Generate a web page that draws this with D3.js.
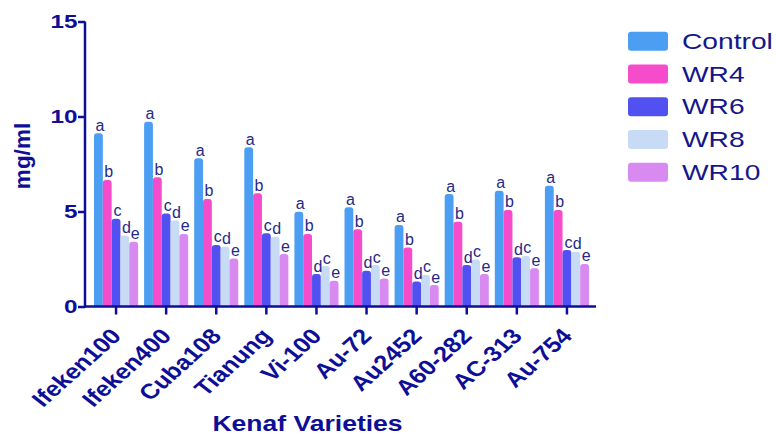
<!DOCTYPE html>
<html>
<head>
<meta charset="utf-8">
<script src="https://cdn.jsdelivr.net/npm/d3@7"></script>
<style>
  html, body { margin: 0; padding: 0; background: #fff; }
  svg { display: block; }
</style>
</head>
<body>
<svg id="chart" width="776" height="434"></svg>
<script>
// Kenaf varieties and treatment series
const varieties = ["Ifeken100", "Ifeken400", "Cuba108", "Tianung", "Vi-100", "Au-72", "Au2452", "A60-282", "AC-313", "Au-754"];
const seriesNames = ["Control", "WR4", "WR6", "WR8", "WR10"];

// Concentration (mg/ml) per variety, one array per series
const control = [9.12, 9.73, 7.80, 8.38, 4.99, 5.22, 4.29, 5.92, 6.09, 6.36];
const wr4     = [6.66, 6.80, 5.66, 5.96, 3.82, 4.06, 3.11, 4.46, 5.08, 5.08];
const wr6     = [4.62, 4.90, 3.24, 3.85, 1.71, 1.88, 1.31, 2.18, 2.59, 2.97];
const wr8     = [3.74, 4.52, 3.15, 3.67, 2.13, 2.18, 1.66, 2.48, 2.66, 2.88];
const wr10    = [3.41, 3.82, 2.52, 2.76, 1.36, 1.48, 1.13, 1.71, 2.01, 2.24];

// Significance letters per series
const lettersControl = ["a", "a", "a", "a", "a", "a", "a", "a", "a", "a"];
const lettersWr4     = ["b", "b", "b", "b", "b", "b", "b", "b", "b", "b"];
const lettersWr6     = ["c", "c", "c", "c", "d", "d", "d", "d", "d", "c"];
const lettersWr8     = ["d", "d", "d", "d", "c", "c", "c", "c", "c", "d"];
const lettersWr10    = ["e", "e", "e", "e", "e", "e", "e", "e", "e", "e"];

const yTicks = [0, 5, 10, 15];

const seriesValues = [control, wr4, wr6, wr8, wr10];
const seriesLetters = [lettersControl, lettersWr4, lettersWr6, lettersWr8, lettersWr10];
const colors = ["#4c9ef3", "#f44ccb", "#5151f2", "#c7dbf5", "#d98af0"];

const NAVY = "#0e0e96";
const FONT = "'Liberation Sans', Arial, sans-serif";

const svg = d3.select("#chart");

const x0 = d3.scaleBand().domain(varieties).range([91, 592]).paddingInner(0.12).paddingOuter(0.06);
const x1 = d3.scaleBand().domain(seriesNames).range([0, x0.bandwidth()]);
const y = d3.scaleLinear().domain([0, 15]).range([306.5, 21.5]);
const color = d3.scaleOrdinal().domain(seriesNames).range(colors);

// flattened records for bars
const records = [];
varieties.forEach((v, i) => {
  seriesNames.forEach((s, j) => {
    records.push({ variety: v, series: s, value: seriesValues[j][i], letter: seriesLetters[j][i] });
  });
});

// bar with rounded top corners
function roundTopPath(x, yTop, w, yBase, r) {
  r = Math.min(r, w / 2, (yBase - yTop));
  return `M${x},${yBase}V${yTop + r}Q${x},${yTop} ${x + r},${yTop}H${x + w - r}Q${x + w},${yTop} ${x + w},${yTop + r}V${yBase}Z`;
}

const bars = svg.append("g");
bars.selectAll("path")
  .data(records)
  .join("path")
  .attr("fill", d => color(d.series))
  .attr("d", d => roundTopPath(x0(d.variety) + x1(d.series), y(d.value), x1.bandwidth(), y(0), 3));

// significance letters
svg.append("g").selectAll("text")
  .data(records)
  .join("text")
  .attr("x", d => x0(d.variety) + x1(d.series) + x1.bandwidth() / 2 + 1.5)
  .attr("y", d => y(d.value) - 2.5)
  .attr("text-anchor", "middle")
  .attr("font-family", FONT)
  .attr("font-size", 16)
  .attr("fill", "#252a86")
  .text(d => d.letter);

// y axis
const yAxis = svg.append("g")
  .attr("transform", "translate(85,0)")
  .call(d3.axisLeft(y).tickValues(yTicks).tickSize(7).tickSizeOuter(0).tickFormat(d3.format("d")));
yAxis.select(".domain").remove();
yAxis.selectAll(".tick line").attr("stroke", NAVY).attr("stroke-width", 2.5);
yAxis.selectAll(".tick text")
  .attr("x", null).attr("dy", null)
  .attr("transform", "translate(-7.5,6.4) scale(1.35,1)")
  .attr("text-anchor", "end")
  .attr("font-family", FONT)
  .attr("font-size", 18)
  .attr("font-weight", "bold")
  .attr("fill", NAVY);

// x axis
const xAxis = svg.append("g")
  .attr("transform", `translate(0,${y(0)})`)
  .call(d3.axisBottom(x0).tickSize(8).tickSizeOuter(0));
xAxis.select(".domain").remove();
xAxis.selectAll(".tick line").attr("stroke", NAVY).attr("stroke-width", 2.5);
xAxis.selectAll(".tick text")
  .attr("y", null).attr("dy", null)
  .attr("transform", "translate(6.5,30.5) scale(1.2,1) rotate(-47)")
  .attr("text-anchor", "end")
  .attr("font-family", FONT)
  .attr("font-size", 21.3)
  .attr("font-weight", "bold")
  .attr("fill", NAVY);

// axis lines
svg.append("line")
  .attr("x1", 85).attr("x2", 85)
  .attr("y1", y(15)).attr("y2", y(0) + 1.25)
  .attr("stroke", NAVY).attr("stroke-width", 2.5);
svg.append("line")
  .attr("x1", 84).attr("x2", 596)
  .attr("y1", y(0)).attr("y2", y(0))
  .attr("stroke", NAVY).attr("stroke-width", 2.5);

// axis titles
svg.append("text")
  .attr("transform", "translate(29.5,156) rotate(-90)")
  .attr("text-anchor", "middle")
  .attr("font-family", FONT)
  .attr("font-size", 22.5)
  .attr("font-weight", "bold")
  .attr("fill", NAVY)
  .text("mg/ml");

svg.append("text")
  .attr("transform", "translate(307.5,431) scale(1.24,1)")
  .attr("text-anchor", "middle")
  .attr("font-family", FONT)
  .attr("font-size", 21.4)
  .attr("font-weight", "bold")
  .attr("fill", NAVY)
  .text("Kenaf Varieties");

// legend
const legend = svg.append("g");
const legendRow = d3.scaleLinear().domain([0, 4]).range([41.2, 172.3]);
seriesNames.forEach((s, i) => {
  const cy = legendRow(i);
  legend.append("rect")
    .attr("x", 628).attr("y", cy - 9.5)
    .attr("width", 40).attr("height", 19)
    .attr("rx", 3)
    .attr("fill", color(s));
  legend.append("text")
    .attr("transform", `translate(682,${cy + 7.6}) scale(1.33,1)`)
    .attr("font-family", FONT)
    .attr("font-size", 21.2)
    .attr("fill", "#16168a")
    .text(s);
});
</script>
</body>
</html>
